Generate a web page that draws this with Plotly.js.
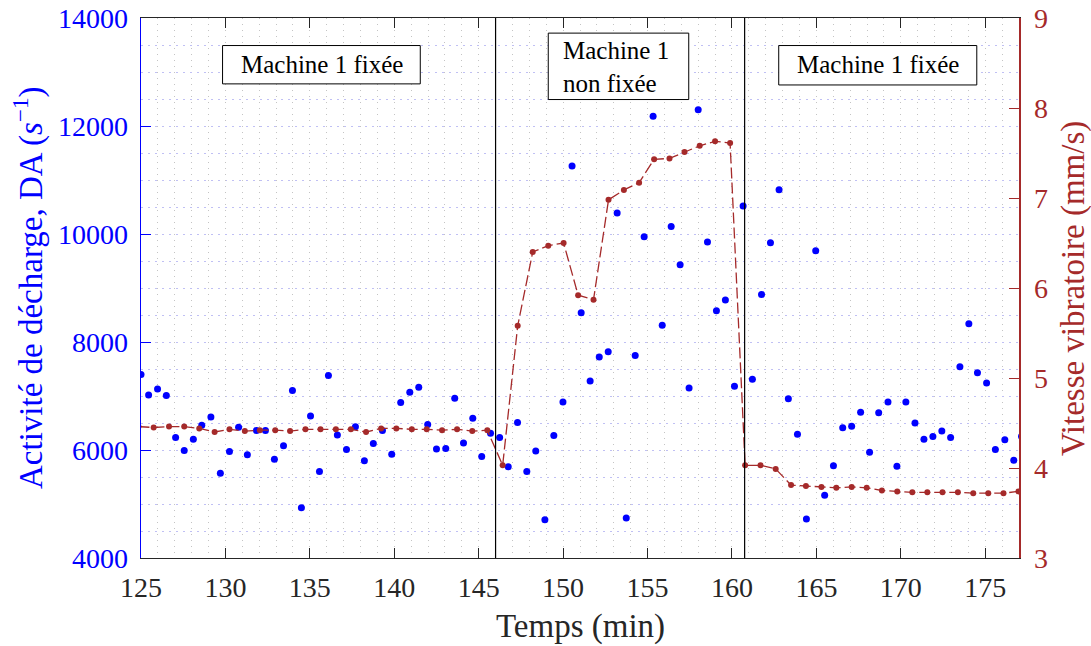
<!DOCTYPE html>
<html>
<head>
<meta charset="utf-8">
<script src="https://cdn.plot.ly/plotly-3.0.1.min.js"></script>
<style>html,body{margin:0;padding:0;background:#fff;}#chart{width:1091px;height:646px;}</style>
</head>
<body>
<div id="chart"></div>
<script>
// Discharge activity (left axis)
const timeDA = [125.0,125.45,125.98,126.5,127.05,127.56,128.1,128.6,129.14,129.7,
  130.24,130.78,131.3,131.84,132.37,132.9,133.44,133.97,134.5,135.04,
  135.57,136.1,136.63,137.17,137.7,138.23,138.76,139.3,139.85,140.38,
  140.92,141.45,141.98,142.5,143.05,143.58,144.1,144.65,145.18,145.7,
  146.24,146.75,147.3,147.85,148.38,148.92,149.45,149.99,150.53,151.07,
  151.6,152.14,152.67,153.2,153.74,154.27,154.8,155.33,155.87,156.4,
  156.93,157.46,158.0,158.55,159.08,159.61,160.15,160.66,161.21,161.75,
  162.28,162.79,163.34,163.88,164.41,164.96,165.49,166.01,166.56,167.09,
  167.62,168.15,168.69,169.24,169.77,170.3,170.84,171.37,171.9,172.43,
  172.95,173.5,174.03,174.54,175.08,175.6,176.16,176.69,177.15];
const DA = [7400,7020,7130,7010,6230,5990,6200,6460,6610,5570,
  5970,6420,5910,6360,6360,5830,6080,7100,4930,6630,
  5600,7380,6280,6010,6430,5800,6120,6360,5920,6880,
  7070,7160,6470,6020,6030,6960,6130,6590,5880,6310,
  6230,5690,6510,5600,5980,4710,6270,6890,11260,8540,
  7280,7720,7820,10390,4740,7750,9950,12180,8310,10140,
  9430,7150,12300,9850,8580,8780,7180,10520,7310,8880,
  9840,10820,6950,6290,4720,9690,5160,5710,6410,6440,
  6700,5960,6690,6890,5700,6890,6500,6200,6250,6350,
  6230,7540,8340,7430,7240,6010,6190,5810,6250];

// Vibration velocity (right axis)
const timeV = [124.85,125.75,126.66,127.56,128.45,129.36,130.24,131.15,132.04,132.95,
  133.83,134.74,135.63,136.54,137.43,138.33,139.22,140.12,141.04,141.92,
  142.83,143.72,144.62,145.51,146.42,147.31,148.2,149.12,150.03,150.89,
  151.8,152.69,153.6,154.5,155.39,156.3,157.19,158.09,159.0,159.89,
  160.78,161.69,162.59,163.5,164.38,165.3,166.18,167.09,167.98,168.88,
  169.79,170.68,171.57,172.47,173.38,174.29,175.18,176.08,176.97];
const vitesse = [4.46,4.45,4.46,4.46,4.44,4.40,4.43,4.41,4.42,4.42,
  4.41,4.43,4.43,4.43,4.43,4.40,4.44,4.44,4.43,4.43,
  4.42,4.43,4.41,4.42,4.03,5.58,6.40,6.47,6.50,5.92,
  5.87,6.98,7.09,7.17,7.43,7.44,7.51,7.58,7.63,7.61,
  4.03,4.03,3.99,3.81,3.80,3.79,3.78,3.79,3.78,3.75,
  3.74,3.73,3.73,3.73,3.73,3.72,3.72,3.72,3.74];

// Phase boundaries and labels
const phaseLines = [146, 160.75];
const phaseLabels = ["Machine 1 fixée", "Machine 1<br>non fixée", "Machine 1 fixée"];

const BLUE = '#0000ff';
const RED = '#a52a2a';
const INK = '#262626';
const FONT = '"Liberation Serif", "DejaVu Serif", serif';

const traces = [
  {x: timeDA, y: DA, type: 'scatter', mode: 'markers', yaxis: 'y',
   marker: {color: BLUE, size: 7}, cliponaxis: true},
  {x: timeV, y: vitesse, type: 'scatter', mode: 'lines+markers', yaxis: 'y2',
   line: {color: RED, width: 1.3, dash: '11px,4px'},
   marker: {color: RED, size: 6}, cliponaxis: true}
];

const shapes = phaseLines.map(t => ({
  type: 'line', xref: 'x', yref: 'paper', x0: t, x1: t, y0: 0, y1: 1,
  line: {color: '#000', width: 1.2, dash: 'solid'}, layer: 'above'
}));
const boxes = [
  [129.83, 141.54, 0.878, 0.949],
  [149.12, 157.44, 0.849, 0.972],
  [162.77, 174.50, 0.876, 0.949]
];
boxes.forEach(b => shapes.push({
  type: 'rect', xref: 'x', yref: 'paper', x0: b[0], x1: b[1], y0: b[2], y1: b[3],
  line: {color: '#000', width: 1}, fillcolor: '#fff', layer: 'above'
}));

const annotations = [
  {xref: 'x', yref: 'paper', x: 135.69, y: 0.914, text: phaseLabels[0], showarrow: false,
   font: {family: FONT, size: 25, color: '#000'}, xanchor: 'center', yanchor: 'middle'},
  {xref: 'x', yref: 'paper', x: 149.9, y: 0.910, text: phaseLabels[1], showarrow: false, align: 'left',
   font: {family: FONT, size: 25, color: '#000'}, xanchor: 'left', yanchor: 'middle'},
  {xref: 'x', yref: 'paper', x: 168.64, y: 0.913, text: phaseLabels[2], showarrow: false,
   font: {family: FONT, size: 25, color: '#000'}, xanchor: 'center', yanchor: 'middle'},
  {xref: 'paper', yref: 'paper', x: 0.5, y: -0.127, text: 'Temps (min)', showarrow: false,
   font: {family: FONT, size: 33, color: INK}, xanchor: 'center', yanchor: 'middle'},
  {xref: 'paper', yref: 'paper', x: -0.1287, y: 0.5, textangle: -90,
   text: 'Activité de décharge, DA (<i>s</i><sup>−1</sup>)', showarrow: false,
   font: {family: FONT, size: 33, color: BLUE}, xanchor: 'center', yanchor: 'middle'},
  {xref: 'paper', yref: 'paper', x: 1.0615, y: 0.5, textangle: -90,
   text: 'Vitesse vibratoire (mm/s)', showarrow: false,
   font: {family: FONT, size: 33, color: RED}, xanchor: 'center', yanchor: 'middle'}
];

const layout = {
  width: 1091, height: 646,
  margin: {l: 141, r: 72, t: 18, b: 88, pad: 0},
  paper_bgcolor: '#fff', plot_bgcolor: '#fff',
  showlegend: false,
  font: {family: FONT, color: INK},
  xaxis: {
    range: [125, 177], tick0: 125, dtick: 5, ticks: 'inside', ticklen: 10, tickwidth: 1,
    tickcolor: INK, showline: true, linecolor: INK, linewidth: 1, mirror: 'ticks',
    zeroline: false, showgrid: true, gridcolor: '#c4c4c4', gridwidth: 1, griddash: '1px,5px',
    minor: {dtick: 1, showgrid: true, gridcolor: '#c4c4c4', gridwidth: 1, griddash: '1px,5px', ticks: ''},
    tickfont: {family: FONT, size: 28, color: INK}, ticklabelstandoff: 4
  },
  yaxis: {
    range: [4000, 14000], tick0: 4000, dtick: 2000, ticks: 'inside', ticklen: 10, tickwidth: 1,
    tickformat: 'd', exponentformat: 'none', separatethousands: false,
    tickcolor: BLUE, showline: true, linecolor: BLUE, linewidth: 1.5,
    zeroline: false, showgrid: true, gridcolor: '#c0c0f4', gridwidth: 1, griddash: '2px,5px',
    minor: {dtick: 500, showgrid: true, gridcolor: '#c0c0f4', gridwidth: 1, griddash: '2px,5px', ticks: ''},
    tickfont: {family: FONT, size: 28, color: BLUE}, ticklabelstandoff: 6
  },
  yaxis2: {
    overlaying: 'y', side: 'right', range: [3, 9], tick0: 3, dtick: 1,
    ticks: 'inside', ticklen: 10, tickwidth: 1, tickcolor: RED,
    showline: true, linecolor: RED, linewidth: 1.5, showgrid: false, zeroline: false,
    tickfont: {family: FONT, size: 28, color: RED}, ticklabelstandoff: 8
  },
  shapes: shapes,
  annotations: annotations
};

Plotly.newPlot('chart', traces, layout, {displayModeBar: false, staticPlot: true});
</script>
</body>
</html>
